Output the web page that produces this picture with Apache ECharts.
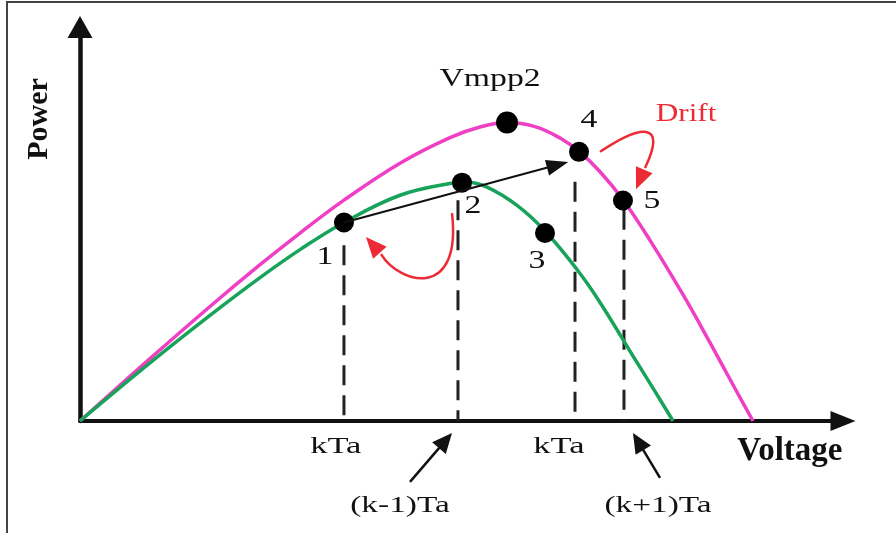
<!DOCTYPE html>
<html>
<head>
<meta charset="utf-8">
<title>P-V drift</title>
<script src="https://cdn.jsdelivr.net/npm/echarts@6/dist/echarts.min.js"></script>
<style>
html, body { margin: 0; padding: 0; background: #fff; }
#chart { width: 896px; height: 533px; }
</style>
</head>
<body>
<div id="chart"></div>
<script>
// P-V curves (arbitrary units)
const upperV = [0, 9.03, 16.77, 23.23, 28.39, 34.06, 41.29, 47.74, 51.61, 55.1, 58.71, 61.94, 64.39, 67.1, 70.06, 73.55, 77.81, 81.29, 84.52, 86.84]
const upperP = [0, 15.35, 28.2, 38.5, 46.3, 54.4, 63.5, 69.8, 72.4, 73.5, 72.5, 69.7, 66.4, 61.4, 54.5, 44.5, 31.1, 19.3, 8.0, 0]
const lowerV = [0, 9.03, 16.77, 23.23, 28.39, 34.06, 41.29, 47.74, 49.94, 52.52, 56.39, 60.0, 64.13, 67.1, 71.35, 74.19, 76.52]
const lowerP = [0, 14.3, 26.0, 35.3, 42.2, 48.9, 55.6, 58.5, 58.8, 57.6, 53.1, 46.8, 37.3, 29.2, 16.0, 7.3, 0]

// operating points
const pointNames = ['1', '2', '3', '4', '5', 'Vmpp2']
const pointV = [34.06, 49.29, 60.0, 64.39, 70.06, 55.1]
const pointP = [48.9, 58.7, 46.3, 66.3, 54.3, 73.5]

// sampling instants (dashed drop lines)
const sampleV = [34.06, 48.77, 63.87, 70.19]
const sampleTop = [43.3, 54.4, 58.9, 52.0]

// x-axis labels
const tickLabels = ['kTa', 'kTa']
const tickV = [33.0, 61.8]
const calloutLabels = ['(k-1)Ta', '(k+1)Ta']
const calloutV = [41.29, 74.58]
const calloutTipV = [48.0, 71.35]

const serif = '"Liberation Serif", "Times New Roman", serif'
const labelOffset = [[-19, 35], [11, 24], [-8, 28], [10, -31], [29, 1], [-17, -43]]

const chart = echarts.init(document.getElementById('chart'))

const series = [
  {
    type: 'line',
    smooth: 0.4,
    showSymbol: false,
    z: 3,
    lineStyle: { color: '#ef3fc4', width: 3.5 },
    data: upperV.map((v, i) => [v, upperP[i]])
  },
  {
    type: 'line',
    smooth: 0.4,
    showSymbol: false,
    z: 3,
    lineStyle: { color: '#17a35a', width: 3.5 },
    data: lowerV.map((v, i) => [v, lowerP[i]])
  },
  {
    type: 'scatter',
    z: 6,
    itemStyle: { color: '#000', opacity: 1 },
    symbolSize: (val, p) => (p.dataIndex === 5 ? 22 : 20),
    data: pointV.map((v, i) => [v, pointP[i]])
  }
]
sampleV.forEach((v, i) => {
  series.push({
    type: 'line',
    showSymbol: false,
    z: 2,
    lineStyle: { color: '#222', width: 3, type: [20, 10] },
    data: [[v, sampleTop[i]], [v, 0]]
  })
})

chart.setOption({
  animation: false,
  grid: { left: 80, right: 53, top: 27, bottom: 112 },
  xAxis: {
    type: 'value',
    min: 0,
    max: 98.45,
    axisLine: {
      lineStyle: { color: '#111', width: 4 },
      symbol: ['none', 'triangle'],
      symbolSize: [20, 25]
    },
    axisTick: { show: false },
    axisLabel: { show: false },
    splitLine: { show: false }
  },
  yAxis: {
    type: 'value',
    min: 0,
    max: 97.04,
    axisLine: {
      lineStyle: { color: '#111', width: 4.5 },
      symbol: ['none', 'triangle'],
      symbolSize: [25, 22]
    },
    axisTick: { show: false },
    axisLabel: { show: false },
    splitLine: { show: false }
  },
  series: series
})

const px = (v, p) => chart.convertToPixel({ gridIndex: 0 }, [v, p])

function text (pos, str, size, opt) {
  opt = opt || {}
  return {
    type: 'text',
    x: pos[0],
    y: pos[1],
    scaleX: opt.sx || 1,
    rotation: opt.rot || 0,
    z: 20,
    style: {
      text: str,
      font: (opt.bold ? 'bold ' : '') + size + 'px ' + serif,
      fill: opt.color || '#111',
      align: 'center',
      verticalAlign: 'middle',
      textAlign: 'center',
      textVerticalAlign: 'middle'
    }
  }
}

function head (tip, from, len, wid, color) {
  const dx = tip[0] - from[0]
  const dy = tip[1] - from[1]
  const n = Math.hypot(dx, dy)
  const ux = dx / n
  const uy = dy / n
  const bx = tip[0] - ux * len
  const by = tip[1] - uy * len
  return {
    type: 'polygon',
    z: 20,
    shape: { points: [tip, [bx - uy * wid / 2, by + ux * wid / 2], [bx + uy * wid / 2, by - ux * wid / 2]] },
    style: { fill: color }
  }
}

function arrow (from, tip, len, wid, color, lw) {
  const dx = tip[0] - from[0]
  const dy = tip[1] - from[1]
  const n = Math.hypot(dx, dy)
  const end = [tip[0] - dx / n * len * 0.8, tip[1] - dy / n * len * 0.8]
  return [
    { type: 'line', z: 19, shape: { x1: from[0], y1: from[1], x2: end[0], y2: end[1] }, style: { stroke: color, lineWidth: lw } },
    head(tip, from, len, wid, color)
  ]
}

function curvedArrow (pts, tip, color) {
  const [s, c1, c2, e] = pts
  return [
    {
      type: 'bezierCurve',
      z: 19,
      shape: { x1: s[0], y1: s[1], cpx1: c1[0], cpy1: c1[1], cpx2: c2[0], cpy2: c2[1], x2: e[0], y2: e[1] },
      style: { stroke: color, lineWidth: 2.5, fill: null }
    },
    head(tip, e, 21, 18, color)
  ]
}

const red = '#ec2b35'
let g = []

// frame
g.push({ type: 'rect', z: 1, shape: { x: 7, y: 2, width: 1000, height: 1000 }, style: { fill: null, stroke: '#444', lineWidth: 2 } })

// point labels
pointNames.forEach((name, i) => {
  const p = px(pointV[i], pointP[i])
  g.push(text([p[0] + labelOffset[i][0], p[1] + labelOffset[i][1]], name, 25, { sx: 1.35 }))
})

// tracking arrow 1 -> 4
g = g.concat(arrow(px(pointV[0], pointP[0]), px(63.0, 63.8), 22, 16, '#111', 2))

// red loop near 1-2
g = g.concat(curvedArrow([px(48.0, 51.2), px(49.29, 29.8), px(41.29, 33.5), px(38.84, 41.1)], px(36.9, 45.3), red))
// drift arrow 4 -> 5
g = g.concat(curvedArrow([px(67.1, 66.3), px(72.26, 72.9), px(75.87, 74.1), px(72.9, 62.3)], px(71.74, 57.1), red))
g.push(text(px(78.2, 75.6), 'Drift', 25, { sx: 1.25, color: red }))

// x-axis labels and callouts
tickLabels.forEach((t, i) => {
  g.push(text(px(tickV[i], -6.4), t, 23, { sx: 1.5 }))
})
calloutLabels.forEach((t, i) => {
  g.push(text(px(calloutV[i], -20.9), t, 23, { sx: 1.45 }))
})
g = g.concat(arrow(px(42.58, -15.0), px(calloutTipV[0], -2.96), 20, 18, '#111', 2.5))
g = g.concat(arrow(px(74.84, -14.0), px(calloutTipV[1], -2.96), 20, 18, '#111', 2.5))

// axis names
g.push(text(px(91.6, -7.6), 'Voltage', 33, { bold: true }))
g.push(text(px(-5.29, 74.4), 'Power', 30, { bold: true, rot: Math.PI / 2 }))

chart.setOption({ graphic: g })
</script>
</body>
</html>
